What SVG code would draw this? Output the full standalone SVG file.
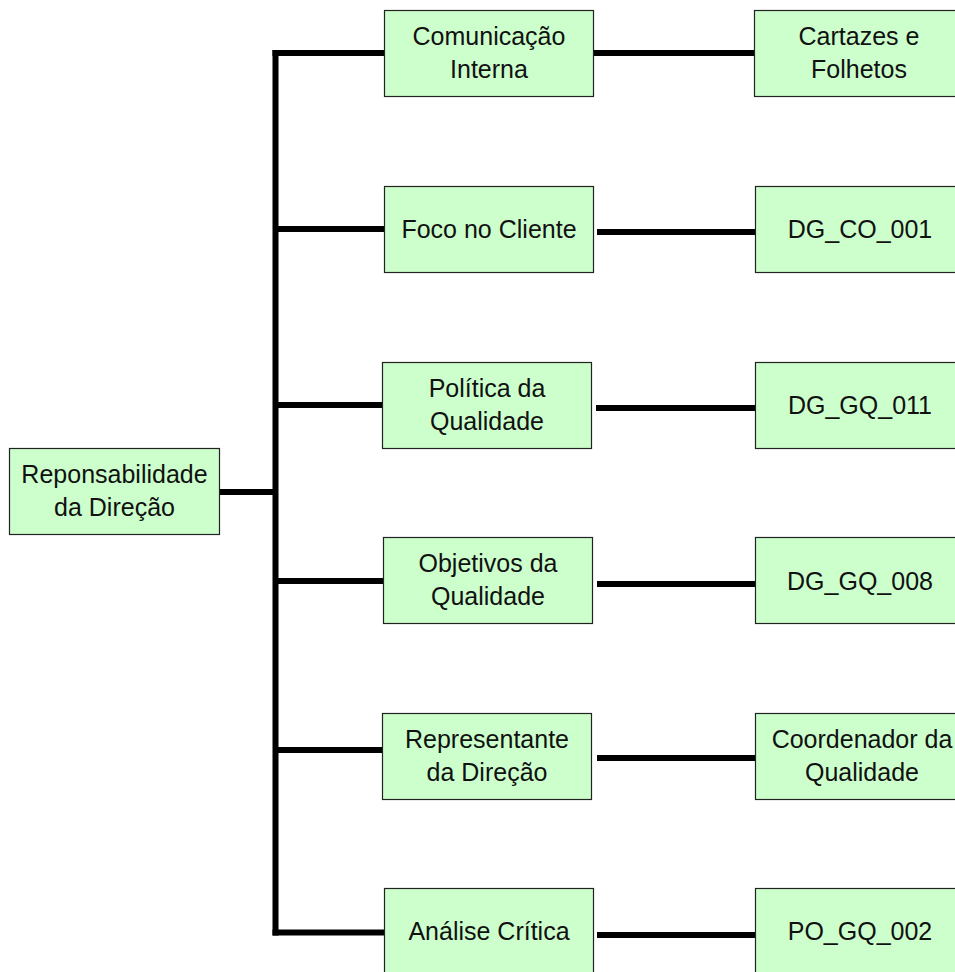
<svg xmlns="http://www.w3.org/2000/svg" width="955" height="972" viewBox="0 0 955 972">
  <style>
    .box { fill: #ccffcc; stroke: #222; stroke-width: 1.2; }
    .lbl { font-family: "Liberation Sans", Arial, sans-serif; font-size: 25px; fill: #111; text-anchor: middle; }
    .wire { stroke: #000; stroke-width: 6; fill: none; stroke-linecap: butt; }
  </style>
  <rect width="955" height="972" fill="#fff"/>

  <!-- connectors -->
  <g id="connectors">
    <path class="wire" d="M219 492 H275.5"/>
    <path class="wire" d="M275.5 50 V935.5"/>
    <path class="wire" d="M272.5 53 H384"/>
    <path class="wire" d="M275.5 229 H384"/>
    <path class="wire" d="M275.5 405 H382"/>
    <path class="wire" d="M275.5 581 H383"/>
    <path class="wire" d="M275.5 750 H382"/>
    <path class="wire" d="M272.5 932.5 H384"/>
    <path class="wire" d="M593 53 H755"/>
    <path class="wire" d="M597 232 H755"/>
    <path class="wire" d="M596 408 H755"/>
    <path class="wire" d="M597 584 H755"/>
    <path class="wire" d="M597 758 H755"/>
    <path class="wire" d="M597 935 H755"/>
  </g>

  <!-- root -->
  <g id="root">
    <rect class="box" x="9.5" y="448.5" width="210" height="86"/>
    <text class="lbl" x="114.5" y="483">Reponsabilidade</text>
    <text class="lbl" x="114.5" y="516">da Direção</text>
  </g>

  <!-- middle column -->
  <g id="comunicacao">
    <rect class="box" x="384.5" y="10.5" width="209" height="86"/>
    <text class="lbl" x="489" y="45">Comunicação</text>
    <text class="lbl" x="489" y="78">Interna</text>
  </g>
  <g id="foco">
    <rect class="box" x="384.5" y="186.5" width="209" height="86"/>
    <text class="lbl" x="489" y="238">Foco no Cliente</text>
  </g>
  <g id="politica">
    <rect class="box" x="382.5" y="362.5" width="209" height="86"/>
    <text class="lbl" x="487" y="397">Política da</text>
    <text class="lbl" x="487" y="430">Qualidade</text>
  </g>
  <g id="objetivos">
    <rect class="box" x="383.5" y="537.5" width="209" height="86"/>
    <text class="lbl" x="488" y="572">Objetivos da</text>
    <text class="lbl" x="488" y="605">Qualidade</text>
  </g>
  <g id="representante">
    <rect class="box" x="382.5" y="713.5" width="209" height="86"/>
    <text class="lbl" x="487" y="748">Representante</text>
    <text class="lbl" x="487" y="781">da Direção</text>
  </g>
  <g id="analise">
    <rect class="box" x="384.5" y="888.5" width="209" height="86"/>
    <text class="lbl" x="489" y="940">Análise Crítica</text>
  </g>

  <!-- right column -->
  <g id="cartazes">
    <rect class="box" x="754.5" y="10.5" width="209" height="86"/>
    <text class="lbl" x="859" y="45">Cartazes e</text>
    <text class="lbl" x="859" y="78">Folhetos</text>
  </g>
  <g id="dg_co_001">
    <rect class="box" x="755.5" y="186.5" width="209" height="86"/>
    <text class="lbl" x="860" y="238">DG_CO_001</text>
  </g>
  <g id="dg_gq_011">
    <rect class="box" x="755.5" y="362.5" width="209" height="86"/>
    <text class="lbl" x="860" y="414">DG_GQ_011</text>
  </g>
  <g id="dg_gq_008">
    <rect class="box" x="755.5" y="537.5" width="209" height="86"/>
    <text class="lbl" x="860" y="590">DG_GQ_008</text>
  </g>
  <g id="coordenador">
    <rect class="box" x="755.5" y="713.5" width="209" height="86"/>
    <text class="lbl" x="862" y="748">Coordenador da</text>
    <text class="lbl" x="862" y="781">Qualidade</text>
  </g>
  <g id="po_gq_002">
    <rect class="box" x="755.5" y="888.5" width="209" height="86"/>
    <text class="lbl" x="860" y="940">PO_GQ_002</text>
  </g>
</svg>
